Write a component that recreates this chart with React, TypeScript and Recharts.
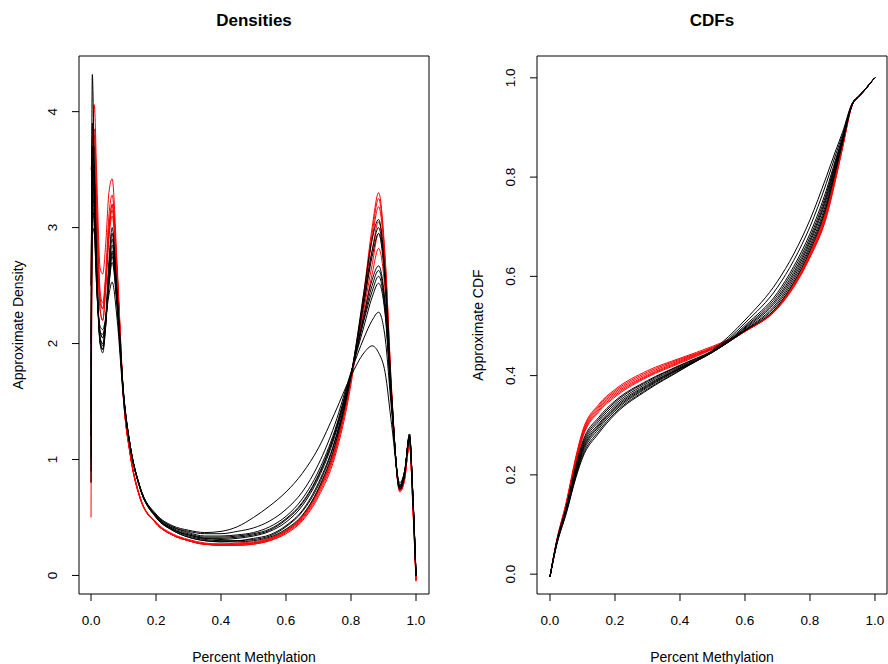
import { LineChart, Line, XAxis, YAxis, ReferenceArea, Label } from "recharts";

const FONT = '"Liberation Sans", Arial, Helvetica, sans-serif';

// density estimates
const densX = [0, 0.004, 0.01, 0.018, 0.028, 0.036, 0.045, 0.055, 0.065, 0.08, 0.1, 0.12, 0.15, 0.2, 0.25, 0.3, 0.35, 0.4, 0.45, 0.5, 0.55, 0.6, 0.65, 0.7, 0.75, 0.8, 0.84, 0.865, 0.885, 0.905, 0.925, 0.95, 0.965, 0.98, 0.99, 1.0];

const densRed1 = [0.5, 3.2, 4.06, 3.4, 2.65, 2.6, 2.85, 3.3, 3.42, 2.7, 1.55, 1.07, 0.68, 0.45, 0.35, 0.3, 0.27, 0.26, 0.26, 0.27, 0.3, 0.36, 0.47, 0.68, 1.02, 1.65, 2.45, 3.0, 3.3, 2.75, 1.6, 0.72, 0.82, 1.15, 0.6, -0.05];
const densRed2 = [2.0, 3.75, 3.85, 3.2, 2.45, 2.35, 2.6, 3.1, 3.28, 2.65, 1.54, 1.06, 0.68, 0.45, 0.35, 0.3, 0.27, 0.26, 0.26, 0.27, 0.3, 0.37, 0.48, 0.7, 1.05, 1.68, 2.42, 2.95, 3.25, 2.72, 1.58, 0.73, 0.83, 1.15, 0.62, -0.05];
const densRed3 = [3.5, 3.6, 3.7, 3.1, 2.4, 2.3, 2.55, 3.0, 3.2, 2.62, 1.53, 1.06, 0.68, 0.45, 0.35, 0.3, 0.27, 0.26, 0.27, 0.28, 0.31, 0.38, 0.49, 0.72, 1.07, 1.7, 2.4, 2.9, 3.18, 2.68, 1.57, 0.74, 0.84, 1.14, 0.63, -0.04];
const densRed4 = [1.2, 3.5, 3.8, 3.05, 2.3, 2.2, 2.5, 2.95, 3.15, 2.6, 1.52, 1.05, 0.68, 0.45, 0.35, 0.3, 0.27, 0.27, 0.27, 0.28, 0.31, 0.38, 0.5, 0.73, 1.08, 1.7, 2.35, 2.8, 3.05, 2.6, 1.55, 0.74, 0.85, 1.13, 0.64, -0.04];
const densRed5 = [0.8, 3.3, 3.55, 2.95, 2.28, 2.2, 2.45, 2.9, 3.1, 2.58, 1.52, 1.05, 0.67, 0.45, 0.35, 0.3, 0.27, 0.27, 0.27, 0.28, 0.32, 0.39, 0.51, 0.74, 1.1, 1.72, 2.3, 2.68, 2.95, 2.55, 1.52, 0.75, 0.86, 1.13, 0.65, -0.03];
const densRed6 = [2.5, 3.4, 3.5, 2.9, 2.35, 2.3, 2.55, 2.95, 3.2, 2.6, 1.53, 1.06, 0.68, 0.46, 0.36, 0.31, 0.28, 0.27, 0.28, 0.29, 0.32, 0.39, 0.51, 0.75, 1.1, 1.72, 2.25, 2.6, 2.82, 2.45, 1.48, 0.76, 0.86, 1.12, 0.66, -0.03];

const densBlack1 = [1.5, 4.32, 3.5, 2.6, 2.0, 1.95, 2.2, 2.7, 3.0, 2.45, 1.58, 1.13, 0.76, 0.5, 0.39, 0.33, 0.3, 0.29, 0.29, 0.3, 0.33, 0.4, 0.52, 0.75, 1.12, 1.72, 2.45, 2.9, 3.07, 2.6, 1.55, 0.74, 0.86, 1.22, 0.7, 0];
const densBlack2 = [0.8, 3.9, 3.55, 2.65, 2.0, 1.92, 2.15, 2.65, 2.95, 2.42, 1.58, 1.13, 0.76, 0.5, 0.39, 0.33, 0.3, 0.29, 0.3, 0.31, 0.34, 0.42, 0.55, 0.78, 1.15, 1.73, 2.4, 2.8, 3.0, 2.56, 1.55, 0.75, 0.87, 1.22, 0.7, 0];
const densBlack3 = [2.0, 3.7, 3.45, 2.6, 2.05, 1.98, 2.2, 2.65, 2.9, 2.42, 1.57, 1.13, 0.77, 0.51, 0.4, 0.34, 0.31, 0.3, 0.3, 0.32, 0.35, 0.43, 0.56, 0.8, 1.16, 1.73, 2.35, 2.75, 2.95, 2.52, 1.54, 0.75, 0.88, 1.21, 0.7, 0];
const densBlack4 = [1.2, 3.6, 3.3, 2.55, 2.02, 1.95, 2.15, 2.6, 2.85, 2.4, 1.56, 1.12, 0.77, 0.51, 0.4, 0.35, 0.32, 0.31, 0.32, 0.34, 0.38, 0.46, 0.6, 0.84, 1.2, 1.73, 2.25, 2.55, 2.67, 2.35, 1.5, 0.76, 0.88, 1.2, 0.7, 0];
const densBlack5 = [1.0, 3.5, 3.25, 2.5, 2.05, 2.0, 2.15, 2.55, 2.8, 2.38, 1.56, 1.12, 0.77, 0.51, 0.4, 0.35, 0.32, 0.32, 0.33, 0.35, 0.39, 0.48, 0.62, 0.86, 1.22, 1.74, 2.22, 2.5, 2.63, 2.32, 1.49, 0.76, 0.89, 1.2, 0.7, 0];
const densBlack6 = [2.5, 3.4, 3.2, 2.55, 2.1, 2.05, 2.2, 2.55, 2.78, 2.36, 1.55, 1.12, 0.76, 0.51, 0.41, 0.36, 0.33, 0.33, 0.34, 0.36, 0.4, 0.49, 0.63, 0.87, 1.23, 1.74, 2.2, 2.45, 2.58, 2.28, 1.48, 0.77, 0.89, 1.19, 0.71, 0];
const densBlack7 = [1.8, 3.3, 3.1, 2.5, 2.1, 2.08, 2.2, 2.5, 2.75, 2.34, 1.55, 1.12, 0.76, 0.52, 0.42, 0.37, 0.34, 0.34, 0.35, 0.37, 0.42, 0.51, 0.66, 0.9, 1.25, 1.75, 2.15, 2.4, 2.52, 2.25, 1.47, 0.77, 0.9, 1.19, 0.71, 0];
const densBlack8 = [1.4, 3.2, 3.0, 2.45, 2.15, 2.12, 2.22, 2.42, 2.53, 2.22, 1.52, 1.12, 0.76, 0.52, 0.42, 0.38, 0.36, 0.36, 0.38, 0.41, 0.47, 0.57, 0.72, 0.96, 1.3, 1.75, 2.05, 2.2, 2.27, 2.05, 1.42, 0.78, 0.9, 1.18, 0.72, 0];
const densBlack9 = [0.9, 3.0, 2.95, 2.45, 2.1, 2.05, 2.2, 2.5, 2.7, 2.32, 1.54, 1.13, 0.77, 0.53, 0.43, 0.39, 0.37, 0.38, 0.42, 0.5, 0.6, 0.72, 0.88, 1.1, 1.4, 1.72, 1.92, 1.98, 1.92, 1.75, 1.3, 0.8, 0.9, 1.17, 0.72, 0];

const cdfX = [0, 0.02, 0.05, 0.08, 0.1, 0.15, 0.2, 0.3, 0.4, 0.5, 0.55, 0.6, 0.7, 0.75, 0.8, 0.85, 0.88, 0.9, 0.93, 0.95, 0.97, 0.99, 1.0];

const cdfRed1 = [-0.005, 0.066, 0.145, 0.238, 0.288, 0.342, 0.372, 0.41, 0.435, 0.459, 0.473, 0.49, 0.535, 0.578, 0.638, 0.718, 0.798, 0.858, 0.945, 0.962, 0.976, 0.993, 1.0];
const cdfRed2 = [-0.005, 0.065, 0.143, 0.235, 0.285, 0.339, 0.369, 0.407, 0.433, 0.457, 0.472, 0.49, 0.536, 0.58, 0.64, 0.72, 0.8, 0.859, 0.945, 0.962, 0.976, 0.993, 1.0];
const cdfRed3 = [-0.005, 0.065, 0.141, 0.232, 0.282, 0.336, 0.366, 0.404, 0.431, 0.456, 0.471, 0.489, 0.536, 0.581, 0.642, 0.723, 0.802, 0.86, 0.946, 0.962, 0.976, 0.993, 1.0];
const cdfRed4 = [-0.005, 0.064, 0.139, 0.229, 0.279, 0.333, 0.363, 0.401, 0.429, 0.455, 0.47, 0.489, 0.537, 0.583, 0.644, 0.726, 0.805, 0.862, 0.946, 0.962, 0.976, 0.993, 1.0];
const cdfRed5 = [-0.005, 0.064, 0.138, 0.227, 0.276, 0.33, 0.36, 0.399, 0.427, 0.454, 0.47, 0.489, 0.538, 0.585, 0.647, 0.73, 0.808, 0.864, 0.947, 0.963, 0.976, 0.993, 1.0];
const cdfRed6 = [-0.005, 0.063, 0.137, 0.225, 0.274, 0.327, 0.357, 0.397, 0.425, 0.453, 0.469, 0.489, 0.539, 0.587, 0.65, 0.733, 0.81, 0.866, 0.947, 0.963, 0.976, 0.993, 1.0];

const cdfBlack1 = [-0.005, 0.064, 0.136, 0.22, 0.266, 0.316, 0.349, 0.39, 0.421, 0.45, 0.468, 0.49, 0.54, 0.588, 0.652, 0.738, 0.815, 0.868, 0.946, 0.962, 0.976, 0.993, 1.0];
const cdfBlack2 = [-0.005, 0.063, 0.134, 0.217, 0.262, 0.312, 0.346, 0.388, 0.42, 0.449, 0.468, 0.491, 0.544, 0.593, 0.657, 0.742, 0.818, 0.87, 0.946, 0.962, 0.976, 0.993, 1.0];
const cdfBlack3 = [-0.005, 0.062, 0.132, 0.214, 0.258, 0.308, 0.342, 0.385, 0.418, 0.448, 0.468, 0.492, 0.548, 0.598, 0.662, 0.748, 0.822, 0.872, 0.946, 0.962, 0.976, 0.993, 1.0];
const cdfBlack4 = [-0.005, 0.061, 0.13, 0.21, 0.254, 0.303, 0.338, 0.382, 0.416, 0.447, 0.468, 0.494, 0.553, 0.603, 0.668, 0.755, 0.826, 0.874, 0.947, 0.963, 0.977, 0.993, 1.0];
const cdfBlack5 = [-0.005, 0.061, 0.129, 0.207, 0.25, 0.3, 0.335, 0.38, 0.415, 0.447, 0.469, 0.496, 0.557, 0.608, 0.673, 0.76, 0.83, 0.876, 0.947, 0.963, 0.977, 0.993, 1.0];
const cdfBlack6 = [-0.005, 0.06, 0.128, 0.205, 0.247, 0.297, 0.332, 0.378, 0.414, 0.447, 0.47, 0.498, 0.562, 0.614, 0.679, 0.766, 0.834, 0.878, 0.947, 0.963, 0.977, 0.993, 1.0];
const cdfBlack7 = [-0.005, 0.059, 0.126, 0.202, 0.243, 0.293, 0.329, 0.376, 0.413, 0.448, 0.472, 0.501, 0.567, 0.62, 0.686, 0.773, 0.838, 0.88, 0.948, 0.963, 0.977, 0.993, 1.0];
const cdfBlack8 = [-0.005, 0.058, 0.124, 0.198, 0.238, 0.288, 0.325, 0.373, 0.411, 0.449, 0.475, 0.506, 0.578, 0.632, 0.7, 0.787, 0.847, 0.885, 0.948, 0.963, 0.977, 0.993, 1.0];
const cdfBlack9 = [-0.005, 0.057, 0.122, 0.195, 0.234, 0.284, 0.322, 0.371, 0.41, 0.451, 0.479, 0.512, 0.59, 0.645, 0.714, 0.8, 0.855, 0.89, 0.949, 0.963, 0.977, 0.993, 1.0];

const xTicks = [0, 0.2, 0.4, 0.6, 0.8, 1];
const densYTicks = [0, 1, 2, 3, 4];
const cdfYTicks = [0, 0.2, 0.4, 0.6, 0.8, 1];

const densReds = [densRed1, densRed2, densRed3, densRed4, densRed5, densRed6];
const densBlacks = [densBlack1, densBlack2, densBlack3, densBlack4, densBlack5, densBlack6, densBlack7, densBlack8, densBlack9];
const cdfReds = [cdfRed1, cdfRed2, cdfRed3, cdfRed4, cdfRed5, cdfRed6];
const cdfBlacks = [cdfBlack1, cdfBlack2, cdfBlack3, cdfBlack4, cdfBlack5, cdfBlack6, cdfBlack7, cdfBlack8, cdfBlack9];

function buildRows(xs: number[], reds: number[][], blacks: number[][]) {
  return xs.map((x, i) => {
    const row: Record<string, number> = { x };
    reds.forEach((s, k) => (row[`r${k}`] = s[i]));
    blacks.forEach((s, k) => (row[`b${k}`] = s[i]));
    return row;
  });
}

interface PanelProps {
  title: string;
  yLabel: string;
  rows: Record<string, number>[];
  nRed: number;
  nBlack: number;
  xDomain: [number, number];
  yDomain: [number, number];
  yTicks: number[];
  yFmt: (v: number) => string;
  axisWidth: number;
  rightGap: number;
  yLabelX: number;
}

const W = 444;
const H = 664;
const TOP = 56;
const XAXIS_H = 70;
const TICK_FS = 13.5;
const LAB_FS = 14;

function Panel(p: PanelProps) {
  const plotW = W - p.axisWidth - p.rightGap;

  const rotTick = (props: any) => {
    const { x, y, payload } = props;
    return (
      <text
        x={x}
        y={y}
        transform={`rotate(-90 ${x} ${y})`}
        textAnchor="middle"
        fontSize={TICK_FS}
        fontFamily={FONT}
        fill="#000"
      >
        {p.yFmt(payload.value)}
      </text>
    );
  };

  return (
    <div style={{ position: "relative", width: W, height: H }}>
      <div
        style={{
          position: "absolute",
          left: p.axisWidth,
          width: plotW,
          top: 11,
          textAlign: "center",
          fontWeight: "bold",
          fontSize: 17,
          lineHeight: "20px",
          fontFamily: FONT,
        }}
      >
        {p.title}
      </div>
      <LineChart
        width={W}
        height={H}
        data={p.rows}
        margin={{ top: TOP, right: p.rightGap, bottom: 0, left: 0 }}
      >
        <XAxis
          type="number"
          dataKey="x"
          domain={p.xDomain}
          allowDataOverflow
          ticks={xTicks}
          interval={0}
          tickFormatter={(v: number) => v.toFixed(1)}
          tickSize={7}
          tickMargin={14}
          axisLine={false}
          tickLine={{ stroke: "#000" }}
          tick={{ fill: "#000", fontSize: TICK_FS, fontFamily: FONT }}
          height={XAXIS_H}
        >
          <Label
            value="Percent Methylation"
            position="insideBottom"
            offset={2}
            style={{ fill: "#000", fontSize: LAB_FS, fontFamily: FONT }}
          />
        </XAxis>
        <YAxis
          type="number"
          domain={p.yDomain}
          allowDataOverflow
          ticks={p.yTicks}
          interval={0}
          tickSize={7}
          tickMargin={15}
          axisLine={false}
          tickLine={{ stroke: "#000" }}
          tick={rotTick}
          width={p.axisWidth}
        >
          <Label
            content={(lp: any) => {
              const vb = lp.viewBox || {};
              const cy = (vb.y ?? TOP) + (vb.height ?? H - TOP - XAXIS_H) / 2;
              const cx = p.yLabelX;
              return (
                <text
                  x={cx}
                  y={cy}
                  transform={`rotate(-90 ${cx} ${cy})`}
                  textAnchor="middle"
                  dominantBaseline="central"
                  fontSize={LAB_FS}
                  fontFamily={FONT}
                  fill="#000"
                >
                  {p.yLabel}
                </text>
              );
            }}
          />
        </YAxis>
        {Array.from({ length: p.nRed }, (_, k) => (
          <Line
            key={`r${k}`}
            type="monotone"
            dataKey={`r${k}`}
            stroke="#ff0000"
            strokeWidth={1}
            dot={false}
            activeDot={false}
            isAnimationActive={false}
          />
        ))}
        {Array.from({ length: p.nBlack }, (_, k) => (
          <Line
            key={`b${k}`}
            type="monotone"
            dataKey={`b${k}`}
            stroke="#000000"
            strokeWidth={1}
            dot={false}
            activeDot={false}
            isAnimationActive={false}
          />
        ))}
        <ReferenceArea
          x1={p.xDomain[0]}
          x2={p.xDomain[1]}
          y1={p.yDomain[0]}
          y2={p.yDomain[1]}
          fill="none"
          fillOpacity={0}
          stroke="#000"
          strokeWidth={1}
          ifOverflow="visible"
        />
      </LineChart>
    </div>
  );
}

export default function App() {
  const densRows = buildRows(densX, densReds, densBlacks);
  const cdfRows = buildRows(cdfX, cdfReds, cdfBlacks);

  return (
    <div style={{ position: "relative", width: 888, height: 664, background: "#fff" }}>
      <style>{"body{margin:0;background:#fff}"}</style>
      <div style={{ position: "absolute", left: 0, top: 0 }}>
        <Panel
          title="Densities"
          yLabel="Approximate Density"
          rows={densRows}
          nRed={densReds.length}
          nBlack={densBlacks.length}
          xDomain={[-0.037, 1.04]}
          yDomain={[-0.16, 4.48]}
          yTicks={densYTicks}
          yFmt={(v) => String(v)}
          axisWidth={79}
          rightGap={15}
          yLabelX={18}
        />
      </div>
      <div style={{ position: "absolute", left: 444, top: 0 }}>
        <Panel
          title="CDFs"
          yLabel="Approximate CDF"
          rows={cdfRows}
          nRed={cdfReds.length}
          nBlack={cdfBlacks.length}
          xDomain={[-0.04, 1.037]}
          yDomain={[-0.04, 1.044]}
          yTicks={cdfYTicks}
          yFmt={(v) => v.toFixed(1)}
          axisWidth={93}
          rightGap={1}
          yLabelX={34}
        />
      </div>
    </div>
  );
}
